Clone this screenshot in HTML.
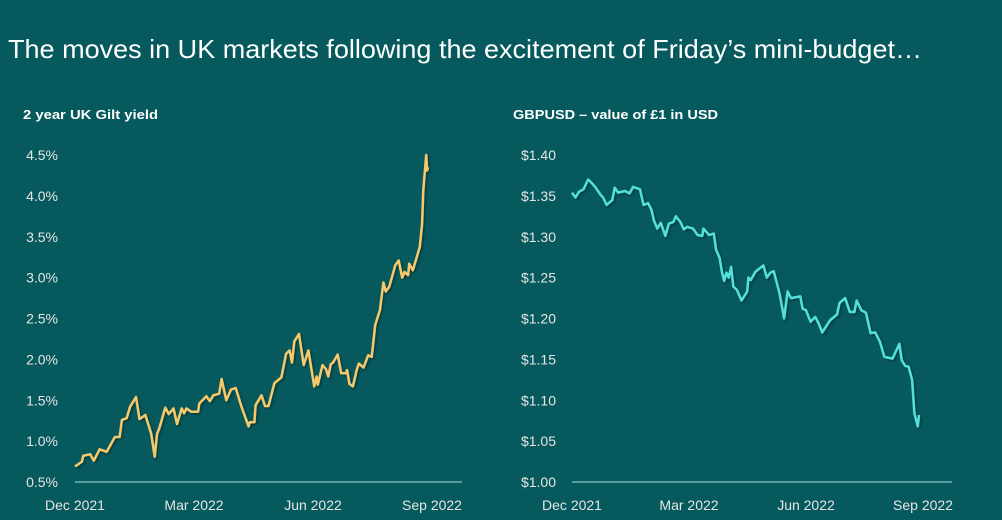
<!DOCTYPE html>
<html><head><meta charset="utf-8"><style>
html,body{margin:0;padding:0;background:#06595c;}
svg{display:block;font-family:"Liberation Sans",sans-serif;}
</style></head><body>
<svg id="c" width="1002" height="520" viewBox="0 0 1002 520">
<rect width="1002" height="520" fill="#06595c"/>
<text x="8" y="58" fill="#ffffff" font-size="26" textLength="914" lengthAdjust="spacingAndGlyphs">The moves in UK markets following the excitement of Friday’s mini-budget…</text>
<text x="23" y="119" fill="#ffffff" font-size="13" font-weight="bold" textLength="135" lengthAdjust="spacingAndGlyphs">2 year UK Gilt yield</text>
<text x="513" y="119" fill="#ffffff" font-size="13" font-weight="bold" textLength="205" lengthAdjust="spacingAndGlyphs">GBPUSD – value of £1 in USD</text>
<defs><filter id="sh" x="-5%" y="-5%" width="110%" height="110%"><feDropShadow dx="1.5" dy="1.5" stdDeviation="1" flood-color="#000" flood-opacity="0.35"/></filter></defs>
<g id="left"></g><g id="right"></g>
</svg>
<script>
const giltDays=[0,6,7,13,16,21,27,34,38,40,44,47,52,55,60,65,68,70,72,77,80,84,87,91,93,95,99,105,106,112,115,118,123,125,129,133,137,142,148,149,153,154,159,162,165,170,176,180,183,185,187,191,195,199,204,206,207,211,214,216,218,220,224,227,231,232,234,237,240,242,246,250,253,256,260,263,265,268,273,276,279,281,284,285,288,291,294,296,297,299.5,300.2,301];
const giltVals=[0.69,0.75,0.82,0.84,0.76,0.90,0.87,1.05,1.05,1.26,1.28,1.42,1.54,1.27,1.32,1.09,0.81,1.09,1.16,1.41,1.33,1.40,1.21,1.40,1.34,1.40,1.36,1.36,1.46,1.55,1.49,1.56,1.58,1.76,1.50,1.63,1.65,1.42,1.18,1.23,1.23,1.44,1.56,1.43,1.43,1.71,1.78,2.07,2.11,1.96,2.22,2.31,1.93,2.11,1.67,1.79,1.69,1.93,1.88,1.79,1.94,1.96,2.06,1.83,1.83,1.87,1.70,1.67,1.86,1.95,1.90,2.05,2.03,2.42,2.60,2.94,2.83,2.89,3.15,3.21,3.00,3.07,3.03,3.17,3.09,3.23,3.38,3.66,4.07,4.50,4.31,4.35];
const giltTicks=["0.5%","1.0%","1.5%","2.0%","2.5%","3.0%","3.5%","4.0%","4.5%"];
const fxDays=[0,3,6,10,14,17,20,25,27,30,35,37,40,46,50,53,59,62,66,69,71,74,77,81,84,88,90,94,97,100,105,109,113,114,119,123,125,128,130,132,134,136,138,140,143,147,152,153,155,159,166,169,172,175,180,184,187,190,198,200,203,207,211,214,217,224,230,232,237,241,245,247,251,255,259,263,267,271,278,284,286,289,292,295,297,300,301];
const fxVals=[1.354,1.348,1.355,1.358,1.370,1.366,1.361,1.351,1.348,1.339,1.345,1.360,1.354,1.356,1.353,1.361,1.358,1.339,1.341,1.333,1.320,1.310,1.317,1.301,1.316,1.318,1.325,1.318,1.309,1.312,1.310,1.302,1.301,1.310,1.302,1.304,1.284,1.274,1.257,1.246,1.256,1.250,1.263,1.239,1.235,1.222,1.233,1.250,1.247,1.257,1.265,1.250,1.256,1.258,1.231,1.200,1.233,1.225,1.227,1.212,1.210,1.196,1.202,1.194,1.183,1.198,1.205,1.219,1.225,1.208,1.208,1.222,1.210,1.207,1.182,1.183,1.172,1.153,1.151,1.169,1.149,1.142,1.141,1.125,1.084,1.068,1.082];
const fxTicks=["$1.00","$1.05","$1.10","$1.15","$1.20","$1.25","$1.30","$1.35","$1.40"];
const xLabels=["Dec 2021","Mar 2022","Jun 2022","Sep 2022"];
const NS="http://www.w3.org/2000/svg";
function mk(t,a,p){const e=document.createElementNS(NS,t);for(const k in a)e.setAttribute(k,a[k]);p.appendChild(e);return e;}
function draw(g,o){
  const xs=d=>o.x0+(d/301)*(o.x1-o.x0);
  const ys=v=>482-(v-o.vmin)/(o.vmax-o.vmin)*(482-155);
  o.ticks.forEach((t,i)=>{
    const v=o.vmin+i*(o.vmax-o.vmin)/(o.ticks.length-1);
    const el=mk("text",{x:o.lx,y:ys(v)+5,fill:"#e6e6e6","font-size":"14","text-anchor":"end"},g);
    el.textContent=t;
    
    
  });
  const ax=mk("line",{x1:o.x0,y1:482,x2:o.ax2,y2:482,stroke:"#6fb3b3","stroke-width":"1.5"},g);
  
  
  xLabels.forEach((t,i)=>{
    const el=mk("text",{x:o.x0+i*(o.x1-o.x0+4)/3,y:510,fill:"#e6e6e6","font-size":"14","text-anchor":"middle"},g);
    el.textContent=t;
    
    
  });
  const pts=o.days.map((d,i)=>xs(d).toFixed(1)+","+ys(o.vals[i]).toFixed(1)).join(" ");
  const pl=mk("polyline",{points:pts,fill:"none",stroke:o.color,"stroke-width":"2.5","stroke-linejoin":"round",filter:"url(#sh)"},g);
  
  
}
draw(document.getElementById("left"),{x0:75,x1:428,ax2:462,lx:58,vmin:0.5,vmax:4.5,ticks:giltTicks,days:giltDays,vals:giltVals,color:"#f7c96b",name:"gilt-yield-line"});
draw(document.getElementById("right"),{x0:572,x1:919,ax2:952,lx:556,vmin:1.0,vmax:1.4,ticks:fxTicks,days:fxDays,vals:fxVals,color:"#52e0dc",name:"gbpusd-line"});
</script>
</body></html>
